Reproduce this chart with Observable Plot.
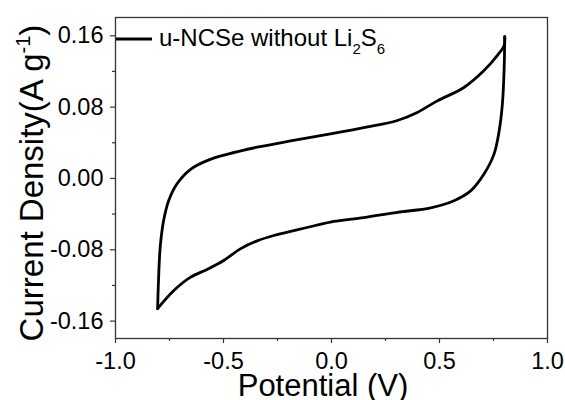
<!DOCTYPE html>
<html><head><meta charset="utf-8">
<script src="https://cdn.jsdelivr.net/npm/d3@7"></script>
<script src="https://cdn.jsdelivr.net/npm/@observablehq/plot@0.6"></script>
<style>html,body{margin:0;padding:0;background:#fff;} #chart{width:565px;height:400px;}</style>
</head><body><div id="chart"></div>
<script>
// Forward sweep (-0.8 V -> 0.8 V)
const fwdPotential = [-0.805, -0.801, -0.793, -0.777, -0.754, -0.715, -0.654, -0.576, -0.484, -0.344, -0.190, -0.005, 0.150, 0.305, 0.397, 0.490, 0.613, 0.706, 0.768, 0.799, 0.802];
const fwdCurrent   = [-0.146, -0.115, -0.077, -0.047, -0.025, -0.006, 0.010, 0.020, 0.027, 0.035, 0.042, 0.050, 0.057, 0.065, 0.074, 0.087, 0.102, 0.121, 0.138, 0.149, 0.159];
// Reverse sweep (0.8 V -> -0.8 V)
const revPotential = [0.802, 0.799, 0.791, 0.776, 0.752, 0.706, 0.644, 0.567, 0.459, 0.305, 0.150, -0.005, -0.113, -0.267, -0.344, -0.422, -0.499, -0.576, -0.654, -0.731, -0.805];
const revCurrent   = [0.159, 0.121, 0.083, 0.053, 0.027, 0.005, -0.014, -0.025, -0.033, -0.038, -0.044, -0.049, -0.055, -0.064, -0.070, -0.079, -0.092, -0.102, -0.111, -0.126, -0.146];

const xTicks = [-1.0, -0.5, 0.0, 0.5, 1.0];
const xMinorTicks = [-0.75, -0.25, 0.25, 0.75];
const yTicks = [-0.16, -0.08, 0.00, 0.08, 0.16];
const yMinorTicks = [-0.12, -0.04, 0.04, 0.12];
const legendParts = [["u-NCSe without Li", false], ["2", true], ["S", false], ["6", true]];
const xTitle = "Potential (V)";
const yTitleParts = [["Current Density(A g", false], ["-1", true], [")", false]];

const data = [
  ...fwdPotential.map((p, i) => ({potential: p, current: fwdCurrent[i], sweep: "forward"})),
  ...revPotential.map((p, i) => ({potential: p, current: revCurrent[i], sweep: "reverse"}))
];

const FONT = "'Liberation Sans', Arial, sans-serif";

const plot = Plot.plot({
  width: 565, height: 400,
  marginLeft: 115, marginRight: 18, marginTop: 17, marginBottom: 62,
  style: {fontFamily: FONT, background: "#fff", color: "#000", overflow: "visible"},
  x: {domain: [-1, 1]},
  y: {domain: [-0.1795, 0.1805]},
  marks: [
    Plot.axisX({ticks: xTicks, tickFormat: d => d.toFixed(1), tickSize: 5, tickPadding: 9, fontSize: 23.5, label: null, stroke: "#333", strokeWidth: 1.2}),
    Plot.axisX({ticks: xMinorTicks, tickFormat: () => "", tickSize: 3, label: null, stroke: "#333", strokeWidth: 1.2}),
    Plot.axisY({ticks: yTicks, tickFormat: d => d.toFixed(2), tickSize: 5, tickPadding: 7, fontSize: 23.5, label: null, stroke: "#333", strokeWidth: 1.2}),
    Plot.axisY({ticks: yMinorTicks, tickFormat: () => "", tickSize: 3, label: null, stroke: "#333", strokeWidth: 1.2}),
    Plot.frame({stroke: "#333", strokeWidth: 1.3}),
    Plot.line(data, {x: "potential", y: "current", z: "sweep", curve: "catmull-rom", stroke: "#000", strokeWidth: 2.8})
  ]
});

document.getElementById("chart").appendChild(plot);
const svg = d3.select(plot.tagName.toLowerCase() === "svg" ? plot : plot.querySelector("svg"));

// Legend (inside plot frame, top-left)
svg.append("line").attr("x1", 116).attr("x2", 152).attr("y1", 39).attr("y2", 39)
  .attr("stroke", "#000").attr("stroke-width", 3);
const lt = svg.append("text").attr("x", 159).attr("y", 46).attr("text-anchor", "start")
  .attr("font-size", 24).attr("font-family", FONT).attr("fill", "#000");
legendParts.forEach(([s, sub], i) => {
  const prevSub = i > 0 && legendParts[i - 1][1];
  const ts = lt.append("tspan").text(s);
  if (sub) ts.attr("font-size", 15).attr("dy", 8);
  else if (prevSub) ts.attr("dy", -8);
});

// X title
svg.append("text").attr("x", 323).attr("y", 396).attr("text-anchor", "middle")
  .attr("font-size", 31).attr("font-family", FONT).attr("fill", "#000").text(xTitle);

// Y title (rotated, with superscript)
const yt = svg.append("text").attr("transform", "translate(43,183) rotate(-90)").attr("text-anchor", "middle")
  .attr("font-size", 33).attr("font-family", FONT).attr("fill", "#000");
yTitleParts.forEach(([s, sup], i) => {
  const prevSup = i > 0 && yTitleParts[i - 1][1];
  const ts = yt.append("tspan").text(s);
  if (sup) ts.attr("font-size", 20).attr("dy", -13);
  else if (prevSup) ts.attr("dy", 13);
});
</script>
</body></html>
